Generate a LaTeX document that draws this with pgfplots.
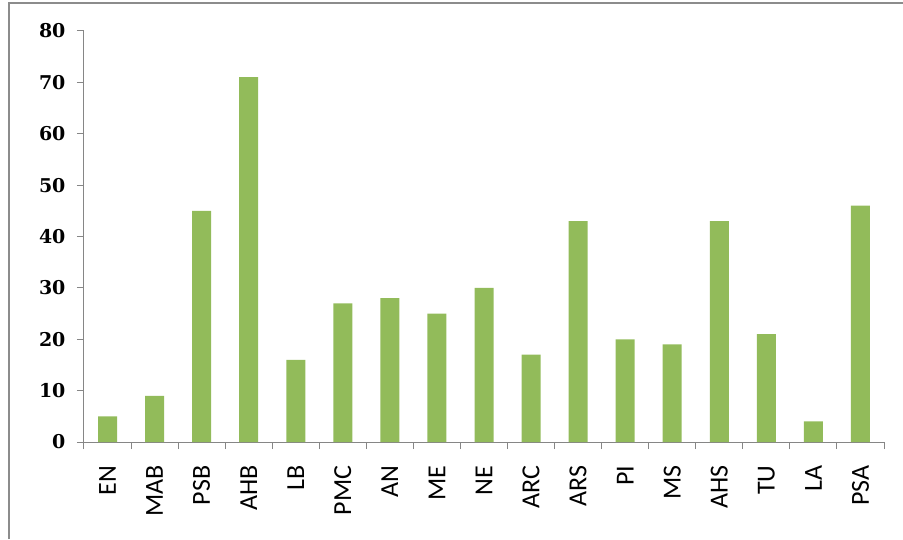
\documentclass[border=0pt]{standalone}
\usepackage{pgfplots}
\pgfplotsset{compat=1.18}
\usepackage{fontspec}
\setmainfont{Carlito}
\newfontfamily\numfont{DejaVu Serif}
\definecolor{bargreen}{HTML}{92BB5A}
\definecolor{axisgray}{HTML}{868686}
\begin{document}
\begin{tikzpicture}
\useasboundingbox (0,0) rectangle (903pt,539pt);
\draw[color=gray!90, line width=1.3pt] (9pt,0) -- (9pt,536pt) -- (903pt,536pt);
\begin{axis}[
  at={(84pt,97pt)}, anchor=south west,
  scale only axis, width=800pt, height=411pt,
  xmin=-0.5, xmax=16.5, ymin=0, ymax=80,
  enlargelimits=false,
  axis x line=bottom, axis y line=left,
  axis line style={-, axisgray, line width=1pt},
  ytick={0,10,...,80},
  xtick={0,...,16},
  xticklabels={EN,MAB,PSB,AHB,LB,PMC,AN,ME,NE,ARC,ARS,PI,MS,AHS,TU,LA,PSA},
  major x tick style={draw=none},
  minor xtick={-0.5,0.5,...,16.5},
  tick align=outside, major tick length=7pt, minor tick length=7pt,
  tick style={axisgray, line width=1pt},
  /pgf/number format/assume math mode=true,
  yticklabel style={font=\numfont\bfseries\fontsize{19}{19}\selectfont, xshift=-8pt},
  xticklabel style={rotate=90, anchor=east, font=\fontsize{26}{26}\selectfont, xshift=-13pt},
  ybar, bar width=19pt,
]
\addplot[fill=bargreen, draw=none] coordinates {
  (0,5) (1,9) (2,45) (3,71) (4,16) (5,27) (6,28) (7,25) (8,30)
  (9,17) (10,43) (11,20) (12,19) (13,43) (14,21) (15,4) (16,46)
};
\end{axis}
\end{tikzpicture}
\end{document}
